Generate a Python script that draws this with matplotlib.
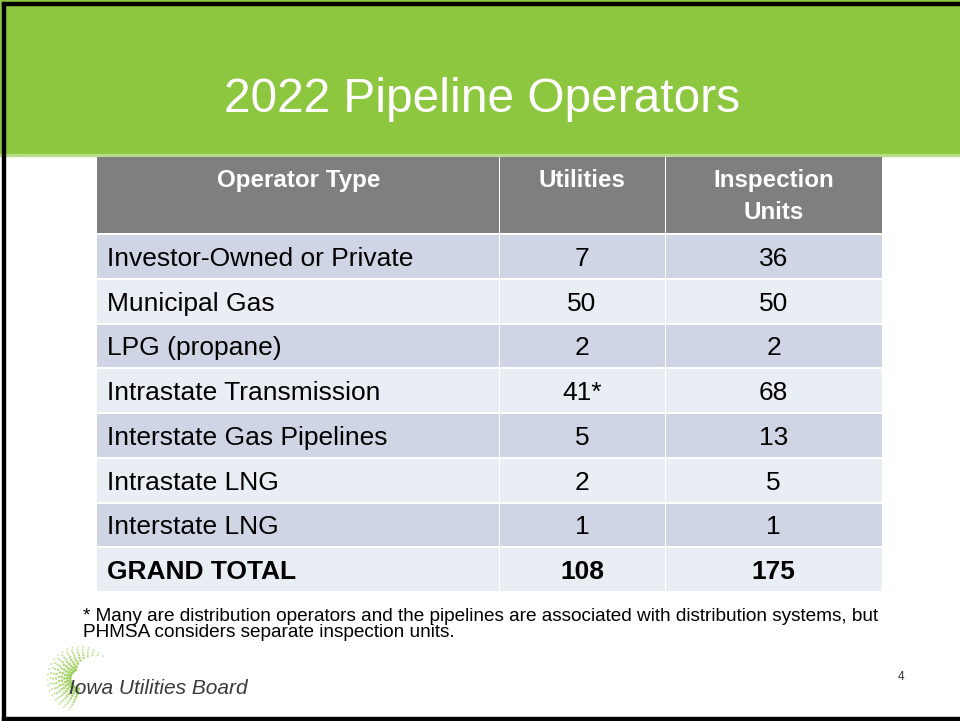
import numpy as np
import matplotlib
matplotlib.use("Agg")
from matplotlib import pyplot as plt
from matplotlib.patches import Rectangle

plt.rcParams['font.family'] = ['Liberation Sans', 'DejaVu Sans']

# 表格数据
title = "2022 Pipeline Operators"
headers = ["Operator Type", "Utilities", "Inspection\nUnits"]
operator_types = ["Investor-Owned or Private", "Municipal Gas", "LPG (propane)",
                  "Intrastate Transmission", "Interstate Gas Pipelines",
                  "Intrastate LNG", "Interstate LNG", "GRAND TOTAL"]
utilities = ["7", "50", "2", "41*", "5", "2", "1", "108"]
inspection_units = ["36", "50", "2", "68", "13", "5", "1", "175"]
footnote = ("* Many are distribution operators and the pipelines are associated with distribution systems, but\n"
            "PHMSA considers separate inspection units.")
org_name = "Iowa Utilities Board"
page_no = "4"

W, H = 960, 721
fig = plt.figure(figsize=(9.6, 7.21), dpi=100)
ax = fig.add_axes([0, 0, 1, 1])
ax.set_xlim(0, W)
ax.set_ylim(H, 0)
ax.axis("off")

# 标题绿色背景
ax.add_patch(Rectangle((0, 0), W, 155, color="#8DC63F", zorder=1))
ax.add_patch(Rectangle((0, 154), W, 1.5, color="#B5DC86", zorder=1))
# 边框
ax.add_patch(Rectangle((2, 2), W, 3, color="black", zorder=2))
ax.add_patch(Rectangle((2, 2), 3, H, color="black", zorder=2))
ax.add_patch(Rectangle((2, 717), W, 4, color="black", zorder=2))

ax.text(482, 99, title, color="white", fontsize=34.5, ha="center", va="center")

# 表格
col_x = [97, 499, 665, 882]
top, head_h, row_h = 157, 78, 44.75
gap = 2

for j in range(3):
    x0, x1 = col_x[j], col_x[j + 1]
    ax.add_patch(Rectangle((x0 + (gap / 2 if j else 0), top), x1 - x0 - (gap / 2 if j else 0), head_h - gap,
                           color="#7F7F7F", lw=0))
    xc = (x0 + x1) / 2 + (1 if j == 0 else 0)
    ax.text(xc, top + 12, headers[j], color="white", fontsize=17.4,
            fontweight="bold", ha="center", va="top", linespacing=1.48)

for i, name in enumerate(operator_types):
    y0 = top + head_h + i * row_h
    fc = "#CFD5E4" if i % 2 == 0 else "#E9EDF4"
    weight = "bold" if name == "GRAND TOTAL" else "normal"
    for j in range(3):
        x0, x1 = col_x[j], col_x[j + 1]
        ax.add_patch(Rectangle((x0 + (gap / 2 if j else 0), y0), x1 - x0 - (gap / 2 if j else 0), row_h - gap,
                               color=fc, lw=0))
    yc = y0 + (row_h - gap) / 2 + 2.5
    ax.text(107, yc, name, fontsize=19, fontweight=weight, ha="left", va="center", color="black")
    ax.text((col_x[1] + col_x[2]) / 2, yc, utilities[i], fontsize=19, fontweight=weight,
            ha="center", va="center", color="black")
    ax.text((col_x[2] + col_x[3]) / 2, yc, inspection_units[i], fontsize=19, fontweight=weight,
            ha="center", va="center", color="black")

# 脚注
ax.text(83, 608, footnote, fontsize=13.65, ha="left", va="top", color="black", linespacing=0.92)

# 标志：绿色点状弧形
cx, cy = 80, 679
for r in np.arange(10, 34, 2.8):
    frac = (r - 10) / 23
    a0 = np.deg2rad(115 - 72 * frac)
    a1 = np.deg2rad(262 - 12 * frac)
    n = int(6 + r * 0.5)
    angs = np.linspace(a0, a1, n)
    xs = cx + r * np.cos(angs)
    ys = cy - r * np.sin(angs)
    sizes = 5 * (1 - 0.65 * frac) * np.ones(n)
    ax.scatter(xs, ys, s=sizes, color="#8DC63F", alpha=0.85 - 0.4 * frac, lw=0, zorder=3)
ax.text(69, 688, org_name, fontsize=15, style="italic", ha="left", va="center", color="#3A3A3A", zorder=4)
ax.text(901, 677, page_no, fontsize=8.5, ha="center", va="center", color="#333333")

plt.savefig("out.png", dpi=100)
